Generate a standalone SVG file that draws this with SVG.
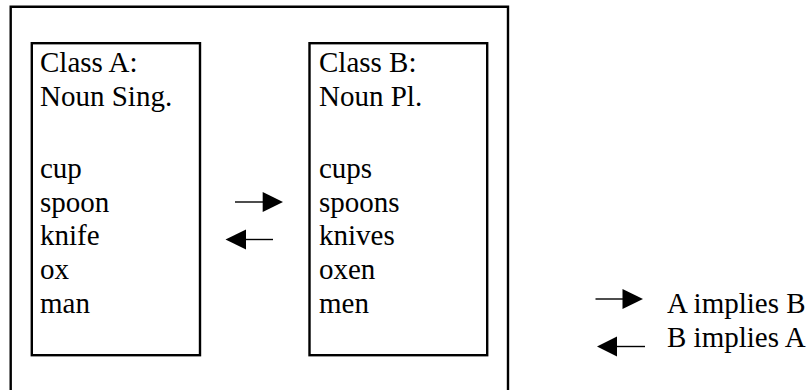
<svg xmlns="http://www.w3.org/2000/svg" width="811" height="390" viewBox="0 0 811 390">
  <style>
    .box { fill: none; stroke: #000; stroke-width: 2.4; }
    .lbl { font-family: "Liberation Serif", "Times New Roman", serif; font-size: 29px; fill: #000; }
    .shaft { stroke: #000; stroke-width: 1.4; fill: none; }
    .head { fill: #000; stroke: none; }
  </style>
  <rect width="811" height="390" fill="#fff"/>

  <!-- enclosing frame (its lower edge runs past the page) -->
  <g id="frame">
    <path class="box" d="M10.7,400 V6.8 H508 V400"/>
  </g>

  <g id="classA">
    <rect class="box" x="31.8" y="43.2" width="168.2" height="312"/>
    <text class="lbl" x="40" y="72">Class A:</text>
    <text class="lbl" x="40" y="106">Noun Sing.</text>
    <text class="lbl" x="40" y="178">cup</text>
    <text class="lbl" x="40" y="212">spoon</text>
    <text class="lbl" x="40" y="245">knife</text>
    <text class="lbl" x="40" y="279">ox</text>
    <text class="lbl" x="40" y="313">man</text>
  </g>

  <g id="classB">
    <rect class="box" x="309.5" y="43.2" width="177.7" height="312"/>
    <text class="lbl" x="319" y="72">Class B:</text>
    <text class="lbl" x="319" y="106">Noun Pl.</text>
    <text class="lbl" x="319" y="178">cups</text>
    <text class="lbl" x="319" y="212">spoons</text>
    <text class="lbl" x="319" y="245">knives</text>
    <text class="lbl" x="319" y="279">oxen</text>
    <text class="lbl" x="319" y="313">men</text>
  </g>

  <g id="connectors">
    <!-- A to B -->
    <line class="shaft" x1="235" y1="202" x2="264" y2="202"/>
    <polygon class="head" points="262.7,192 283,202 262.7,212"/>
    <!-- B to A -->
    <line class="shaft" x1="244" y1="239.5" x2="273" y2="239.5"/>
    <polygon class="head" points="246,229.5 225.5,239.5 246,249.5"/>
  </g>

  <g id="legend">
    <line class="shaft" x1="595.5" y1="299" x2="624" y2="299"/>
    <polygon class="head" points="622.5,289 643,299 622.5,309"/>
    <text class="lbl" x="667" y="313">A implies B</text>
    <line class="shaft" x1="615" y1="346.5" x2="645" y2="346.5"/>
    <polygon class="head" points="617,336.5 597,346.5 617,356.5"/>
    <text class="lbl" x="667" y="347">B implies A</text>
  </g>
</svg>
